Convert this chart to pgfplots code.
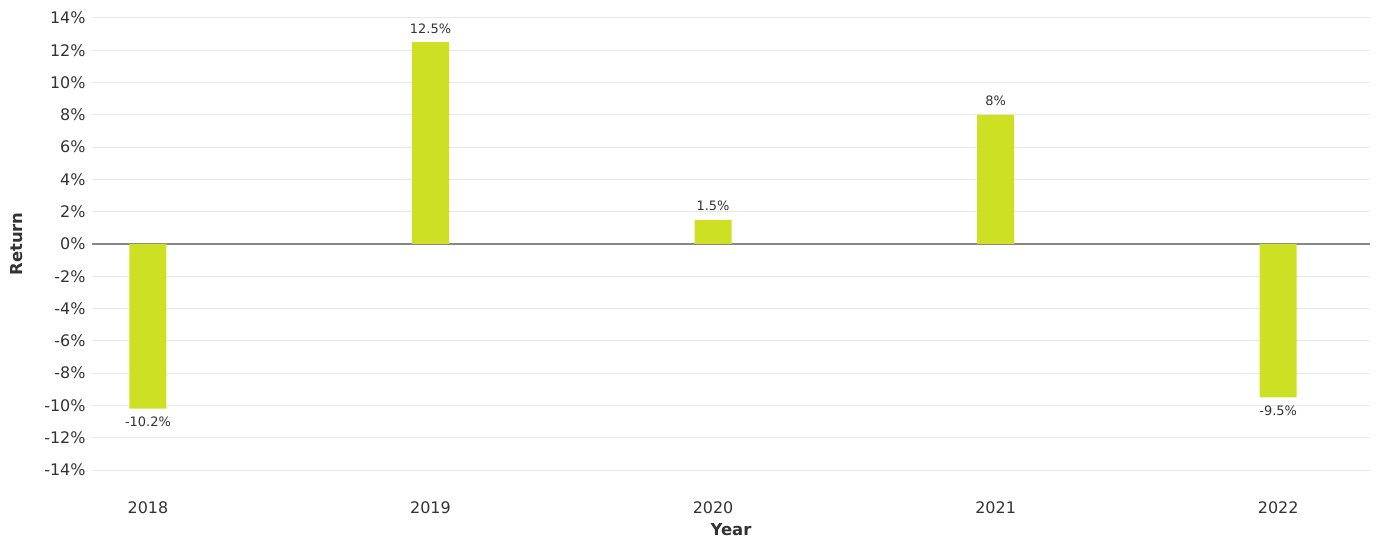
\documentclass[border=0pt]{standalone}
\usepackage{pgfplots}
\pgfplotsset{compat=1.18}
\usepackage{fontspec}
\setmainfont{DejaVu Sans}
\definecolor{barc}{RGB}{206,224,36}
\definecolor{txt}{RGB}{51,51,51}
\definecolor{gridc}{RGB}{232,232,232}
\definecolor{zeroc}{RGB}{136,136,136}
\begin{document}
\begin{tikzpicture}
\path[use as bounding box] (-92bp,-71bp) rectangle (1288bp,470bp);
\begin{axis}[
  scale only axis,
  width=1278bp, height=452bp,
  at={(0,0)}, anchor=south west,
  xmin=-0.198, xmax=4.325,
  ymin=-14, ymax=14,
  ytick={-14,-12,...,14},
  xtick={0,1,2,3,4},
  xticklabels={2018,2019,2020,2021,2022},
  /pgf/number format/assume math mode=true,
  yticklabel={\pgfmathprintnumber{\tick}\%},
  axis line style={draw=none},
  major tick length=0pt,
  ymajorgrids,
  grid style={color=gridc, line width=1bp},
  extra y ticks={0},
  extra y tick labels={},
  extra y tick style={grid style={color=zeroc, line width=2.5bp}},
  ticklabel style={font=\fontsize{16}{19}\selectfont, text=txt},
  yticklabel style={xshift=-3bp},
  xticklabel style={yshift=-28bp},
  xlabel={Year},
  ylabel={Return},
  label style={font=\fontsize{16.5}{19}\selectfont\bfseries, text=txt},
  xlabel style={at={(axis description cs:0.5,0)}, anchor=center, yshift=-60bp},
  ylabel style={at={(axis description cs:0,0.5)}, anchor=center, yshift=75bp},
  ybar, bar width=37bp,
  nodes near coords={\pgfmathprintnumber{\pgfplotspointmeta}\%},
  nodes near coords align={vertical},
  every node near coord/.append style={font=\fontsize{13}{15}\selectfont, text=txt, inner sep=8.5bp},
]
\addplot[fill=barc, draw=none] coordinates {(0,-10.2) (1,12.5) (2,1.5) (3,8) (4,-9.5)};
\end{axis}
\end{tikzpicture}
\end{document}
